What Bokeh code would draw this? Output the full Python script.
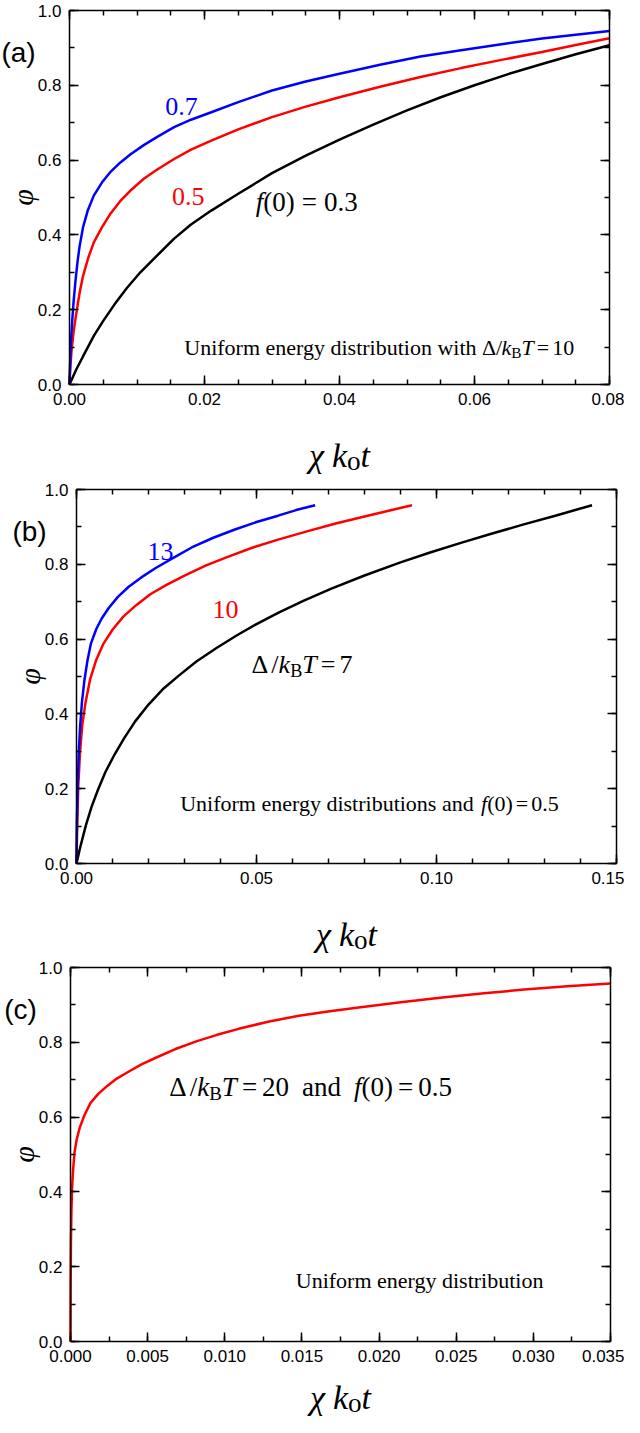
import math
from bokeh.plotting import figure
from bokeh.layouts import column
from bokeh.models import (Range1d, LinearAxis, FixedTicker, PrintfTickFormatter,
                          CustomJSTickFormatter, Label)
from bokeh.embed import file_html
from bokeh.resources import INLINE

# ---------------- data ----------------
# panel (a): uniform energy distribution, Delta/kBT = 10, f(0) = 0.7, 0.5, 0.3
a_x_07 = [0, 0.0001, 0.0002, 0.0004, 0.0006, 0.0009, 0.0012, 0.0015, 0.002, 0.0027, 0.0036, 0.0048,
          0.006, 0.0075, 0.009, 0.011, 0.013, 0.0155, 0.018, 0.021, 0.025, 0.03, 0.035, 0.04,
          0.046, 0.052, 0.058, 0.064, 0.07, 0.075, 0.08]
a_y_07 = [0, 0.06, 0.11, 0.17, 0.22, 0.28, 0.33, 0.37, 0.42, 0.465, 0.505, 0.54,
          0.567, 0.593, 0.615, 0.64, 0.662, 0.688, 0.708, 0.728, 0.755, 0.786, 0.81, 0.831,
          0.855, 0.877, 0.894, 0.91, 0.925, 0.935, 0.945]
a_x_05 = [0, 0.0001, 0.0003, 0.0006, 0.001, 0.0015, 0.002, 0.0028, 0.0036, 0.0048, 0.006, 0.0075,
          0.009, 0.011, 0.013, 0.0155, 0.018, 0.021, 0.025, 0.03, 0.035, 0.04, 0.046, 0.052,
          0.058, 0.064, 0.07, 0.075, 0.08]
a_y_05 = [0, 0.04, 0.09, 0.14, 0.19, 0.245, 0.29, 0.34, 0.38, 0.42, 0.455, 0.49,
          0.518, 0.55, 0.575, 0.603, 0.628, 0.652, 0.682, 0.715, 0.743, 0.768, 0.796, 0.822,
          0.846, 0.868, 0.889, 0.908, 0.926]
a_x_03 = [0, 0.001, 0.002, 0.0036, 0.005, 0.0067, 0.0085, 0.0105, 0.013, 0.0155, 0.018, 0.021,
          0.025, 0.03, 0.035, 0.04, 0.045, 0.05, 0.055, 0.06, 0.065, 0.07, 0.075, 0.08]
a_y_03 = [0, 0.04, 0.075, 0.13, 0.17, 0.215, 0.258, 0.30, 0.345, 0.39, 0.428, 0.465,
          0.51, 0.565, 0.612, 0.655, 0.695, 0.733, 0.768, 0.80, 0.83, 0.857, 0.883, 0.907]

# panel (b): f(0) = 0.5, Delta/kBT = 13, 10, 7
b_x_13 = [0, 0.0001, 0.0003, 0.0006, 0.001, 0.0015, 0.0022, 0.003, 0.004, 0.0055, 0.007, 0.009,
          0.0115, 0.0145, 0.018, 0.022, 0.027, 0.032, 0.038, 0.044, 0.050, 0.056, 0.061, 0.0663]
b_y_13 = [0, 0.11, 0.2, 0.29, 0.365, 0.43, 0.49, 0.54, 0.588, 0.627, 0.655, 0.684,
          0.713, 0.74, 0.765, 0.79, 0.818, 0.845, 0.871, 0.893, 0.913, 0.93, 0.945, 0.958]
b_x_10 = [0, 0.0002, 0.0005, 0.001, 0.0016, 0.0025, 0.0038, 0.0055, 0.0075, 0.01, 0.013, 0.0165,
          0.0205, 0.025, 0.03, 0.036, 0.042, 0.049, 0.056, 0.064, 0.072, 0.08, 0.087, 0.0932]
b_y_10 = [0, 0.1, 0.21, 0.3, 0.37, 0.43, 0.493, 0.545, 0.588, 0.625, 0.66, 0.69,
          0.72, 0.745, 0.77, 0.797, 0.82, 0.845, 0.866, 0.888, 0.909, 0.928, 0.944, 0.958]
b_x_7 = [0, 0.001, 0.0026, 0.0042, 0.006, 0.008, 0.0106, 0.0133, 0.0163, 0.02, 0.0242, 0.0285,
         0.0333, 0.039, 0.0447, 0.05, 0.056, 0.063, 0.0708, 0.08, 0.09, 0.098, 0.107, 0.115,
         0.124, 0.133, 0.1432]
b_y_7 = [0, 0.042, 0.102, 0.152, 0.198, 0.244, 0.292, 0.336, 0.38, 0.425, 0.468, 0.503,
         0.54, 0.577, 0.611, 0.64, 0.67, 0.702, 0.735, 0.77, 0.805, 0.831, 0.858, 0.881,
         0.906, 0.93, 0.958]

# panel (c): Delta/kBT = 20, f(0) = 0.5
c_x_20 = [0, 0.00001, 0.00003, 0.00006, 0.0001, 0.00017, 0.00026, 0.0004, 0.0006, 0.0009, 0.0013,
          0.0018, 0.0024, 0.003, 0.0037, 0.0046, 0.0056, 0.0068, 0.0082, 0.0095, 0.0109, 0.0128,
          0.0148, 0.0168, 0.0188, 0.0214, 0.0241, 0.0268, 0.0294, 0.0322, 0.035]
c_y_20 = [0, 0.15, 0.27, 0.35, 0.41, 0.46, 0.505, 0.54, 0.572, 0.605, 0.638,
          0.662, 0.684, 0.703, 0.72, 0.741, 0.76, 0.782, 0.803, 0.82, 0.836, 0.855,
          0.871, 0.883, 0.894, 0.907, 0.92, 0.931, 0.941, 0.95, 0.957]

# ticks
a_xticks = [0.0, 0.02, 0.04, 0.06, 0.08]
a_xminor = [i * 0.005 for i in range(17)]
b_xticks = [0.0, 0.05, 0.10, 0.15]
b_xminor = [i * 0.01 for i in range(16)]
c_xticks = [0.0, 0.005, 0.010, 0.015, 0.020, 0.025, 0.030, 0.035]
c_xminor = [i * 0.0025 for i in range(15)]
yticks = [0.0, 0.2, 0.4, 0.6, 0.8, 1.0]
yminor = [i * 0.1 for i in range(11)]

BLUE = "#0000FF"
RED = "#FF0000"
BLACK = "#000000"
SERIF = "Liberation Serif"
SANS = "Liberation Sans"

# Times / Liberation Serif advance widths (1/1000 em)
REG = {' ': 250, '.': 250, '(': 333, ')': 333, '=': 564, '/': 278, 'Δ': 612,
       'U': 722, 'B': 667, 'a': 444, 'b': 500, 'c': 444, 'd': 500, 'e': 444,
       'f': 333, 'g': 500, 'h': 500, 'i': 278, 'k': 500, 'l': 278, 'm': 778,
       'n': 500, 'o': 500, 'r': 333, 's': 389, 't': 278, 'u': 500, 'w': 722, 'y': 500}
ITA = {'f': 278, 'k': 444, 'T': 556, 't': 278, 'χ': 500}


def adv(ch, italic):
    if ch.isdigit():
        return 500
    if italic and ch in ITA:
        return ITA[ch]
    return REG.get(ch, 500)


def rich(p, x, y, pieces, size, color=BLACK, center=False, x_off=0, y_off=0):
    """pieces: (text, italic, scale, dy) or ("GAP", px)"""
    widths = []
    for pc in pieces:
        if pc[0] == "GAP":
            widths.append(pc[1])
        else:
            t, it, sc, dy = pc
            widths.append(sum(adv(c, it) for c in t) * size * sc / 1000.0)
    total = sum(widths)
    cur = x_off - total / 2.0 if center else x_off
    for pc, w in zip(pieces, widths):
        if pc[0] != "GAP":
            t, it, sc, dy = pc
            p.add_layout(Label(x=x, y=y, x_offset=cur, y_offset=y_off + dy, text=t,
                               text_font=SERIF, text_font_style="italic" if it else "normal",
                               text_font_size=f"{size * sc:.1f}px", text_color=color,
                               text_align="left", text_baseline="alphabetic"))
        cur += w


def style_axis(ax):
    ax.axis_line_width = 1.5
    ax.axis_line_color = BLACK
    ax.major_tick_in = 9
    ax.major_tick_out = 0
    ax.minor_tick_in = 5
    ax.minor_tick_out = 0
    ax.major_tick_line_width = 1.5
    ax.minor_tick_line_width = 1.5
    ax.major_tick_line_color = BLACK
    ax.minor_tick_line_color = BLACK


W, FW, FH = 624, 540, 374


def make_panel(H, L, T, xmax, xt, xm, xfmt, tag, tag_dx, title_dy):
    # the frame fills the whole figure; the plot box [0,xmax]x[0,1] sits at (L, T)
    x0 = -L / FW * xmax
    x1 = xmax + (W - L - FW) / FW * xmax
    y1 = 1 + T / FH
    y0 = -(H - T - FH) / FH
    p = figure(width=W, height=H, x_range=Range1d(x0, x1), y_range=Range1d(y0, y1),
               output_backend="svg", toolbar_location=None,
               x_axis_type=None, y_axis_type=None,
               min_border=0, min_border_left=0, min_border_right=0,
               min_border_top=0, min_border_bottom=0)
    p.outline_line_color = None
    p.background_fill_color = "white"
    p.border_fill_color = "white"

    xb = LinearAxis(ticker=FixedTicker(ticks=xt, minor_ticks=xm),
                    formatter=PrintfTickFormatter(format=xfmt),
                    fixed_location=0, bounds=(0, xmax))
    yl = LinearAxis(ticker=FixedTicker(ticks=yticks, minor_ticks=yminor),
                    formatter=PrintfTickFormatter(format="%.1f"),
                    fixed_location=0, bounds=(0, 1))
    for ax in (xb, yl):
        style_axis(ax)
        ax.major_label_text_font = SANS
        ax.major_label_text_font_size = "17px"
        ax.major_label_text_color = BLACK
        ax.major_label_standoff = 8
    p.add_layout(xb, "below")
    p.add_layout(yl, "left")

    empty = CustomJSTickFormatter(code="return ''")
    xtop = LinearAxis(ticker=FixedTicker(ticks=xt, minor_ticks=xm), formatter=empty,
                      fixed_location=1, bounds=(0, xmax))
    yr = LinearAxis(ticker=FixedTicker(ticks=yticks, minor_ticks=yminor), formatter=empty,
                    fixed_location=xmax, bounds=(0, 1))
    for ax in (xtop, yr):
        style_axis(ax)
        ax.major_label_standoff = 0
        ax.major_label_text_font_size = "1px"
    p.add_layout(xtop, "above")
    p.add_layout(yr, "right")

    # axis titles
    rich(p, xmax / 2.0, 0, [("χ", True, 1, 0), ("GAP", 6), ("k", True, 1, 0),
                            ("o", False, 0.8, -5), ("t", True, 1, 0)],
         34, center=True, y_off=title_dy)
    p.add_layout(Label(x=0, y=0.5, x_offset=-47, text="φ", angle=math.pi / 2,
                       text_font=SERIF, text_font_style="italic", text_font_size="30px",
                       text_align="center", text_baseline="middle", text_color=BLACK))
    p.add_layout(Label(x=0, y=1, x_offset=tag_dx, y_offset=-42, text=tag,
                       text_font=SANS, text_font_size="28px", text_align="center",
                       text_baseline="middle", text_color=BLACK))
    return p


def dkt(tail, g1=3, g2=4):
    return [("Δ", False, 1, 0), ("GAP", g1), ("/", False, 1, 0), ("k", True, 1, 0),
            ("B", False, 0.7, -6), ("T", True, 1, 0), ("GAP", g2), ("=", False, 1, 0),
            ("GAP", g2), (tail, False, 1, 0)]


# ---------- panel (a) ----------
pa = make_panel(478, 69, 10, 0.08, a_xticks, a_xminor, "%.2f", "(a)", -51, -71)
pa.line(a_x_03, a_y_03, line_color=BLACK, line_width=2.5)
pa.line(a_x_05, a_y_05, line_color=RED, line_width=2.5)
pa.line(a_x_07, a_y_07, line_color=BLUE, line_width=2.5)
rich(pa, 0.0142, 0.742, [("0.7", False, 1, 0)], 26, color=BLUE)
rich(pa, 0.0152, 0.502, [("0.5", False, 1, 0)], 26, color=RED)
rich(pa, 0.0276, 0.489, [("f", True, 1, 0), ("(0)", False, 1, 0), ("GAP", 7), ("=", False, 1, 0),
                         ("GAP", 7), ("0.3", False, 1, 0)], 27)
rich(pa, 0.0170, 0.098, [("Uniform energy distribution with", False, 1, 0), ("GAP", 5),
                         ("Δ/", False, 1, 0), ("k", True, 1, 0), ("B", False, 0.7, -5),
                         ("T", True, 1, 0), ("GAP", 3), ("=", False, 1, 0), ("GAP", 3),
                         ("10", False, 1, 0)], 22)

# ---------- panel (b) ----------
pb = make_panel(478, 76, 11, 0.15, b_xticks, b_xminor, "%.2f", "(b)", -47, -71)
pb.line(b_x_7, b_y_7, line_color=BLACK, line_width=2.5)
pb.line(b_x_10, b_y_10, line_color=RED, line_width=2.5)
pb.line(b_x_13, b_y_13, line_color=BLUE, line_width=2.5)
rich(pb, 0.0197, 0.835, [("13", False, 1, 0)], 26, color=BLUE)
rich(pb, 0.0378, 0.678, [("10", False, 1, 0)], 26, color=RED)
rich(pb, 0.0486, 0.531, dkt("7", 4, 4), 26)
rich(pb, 0.0288, 0.160, [("Uniform energy distributions and", False, 1, 0), ("GAP", 7),
                         ("f", True, 1, 0), ("(0)", False, 1, 0), ("GAP", 3), ("=", False, 1, 0),
                         ("GAP", 3), ("0.5", False, 1, 0)], 22)

# ---------- panel (c) ----------
pc = make_panel(461, 70, 11, 0.035, c_xticks, c_xminor, "%.3f", "(c)", -50, -56)
pc.line(c_x_20, c_y_20, line_color=RED, line_width=2.5)
rich(pc, 0.0064, 0.680, dkt("20", 4, 5) + [("GAP", 13), ("and", False, 1, 0), ("GAP", 13),
                                           ("f", True, 1, 0), ("(0)", False, 1, 0), ("GAP", 5),
                                           ("=", False, 1, 0), ("GAP", 5), ("0.5", False, 1, 0)], 27)
rich(pc, 0.0146, 0.164, [("Uniform energy distribution", False, 1, 0)], 22)

layout = column(pa, pb, pc, spacing=0)
open("out.html", "w").write(file_html(layout, INLINE))
